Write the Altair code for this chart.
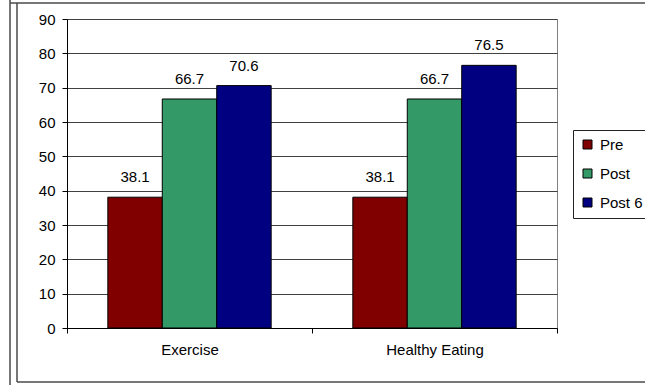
import altair as alt
import pandas as pd

# Survey results: percentage of participants, by topic and phase
topics = ["Exercise", "Healthy Eating"]
phases = ["Pre", "Post", "Post 6"]
exercise_pct = [38.1, 66.7, 70.6]
healthy_eating_pct = [38.1, 66.7, 76.5]
phase_colors = ["#800000", "#339966", "#000080"]
y_ticks = list(range(0, 100, 10))

rows = []
for topic, values in zip(topics, [exercise_pct, healthy_eating_pct]):
    for phase, v in zip(phases, values):
        rows.append({"topic": topic, "phase": phase, "pct": v})
df = pd.DataFrame(rows)

FONT = "Liberation Sans"
FS = 15

x_enc = alt.X(
    "topic:N",
    sort=topics,
    title=None,
    scale=alt.Scale(paddingInner=0, paddingOuter=0),
    axis=alt.Axis(
        labelAngle=0,
        tickBand="extent",
        domainColor="black",
        tickColor="black",
        tickSize=5,
        labelFontSize=FS,
        labelPadding=9,
        labelColor="black",
        grid=False,
    ),
)
xoff_enc = alt.XOffset(
    "phase:N", sort=phases, scale=alt.Scale(paddingInner=0, paddingOuter=0.75)
)
y_enc = alt.Y(
    "pct:Q",
    title=None,
    scale=alt.Scale(domain=[0, 90], nice=False),
    axis=alt.Axis(
        values=y_ticks,
        domainColor="black",
        tickColor="black",
        tickSize=5,
        labelFontSize=FS,
        labelPadding=7,
        labelColor="black",
        gridColor="#404040",
        gridWidth=1,
    ),
)
color_enc = alt.Color(
    "phase:N",
    sort=phases,
    scale=alt.Scale(domain=phases, range=phase_colors),
    legend=alt.Legend(
        title=None,
        orient="none",
        legendX=506,
        legendY=111,
        padding=7,
        strokeColor="#222222",
        fillColor="white",
        rowPadding=13,
        symbolType="square",
        symbolSize=81,
        symbolStrokeColor="black",
        symbolStrokeWidth=1,
        symbolOpacity=1,
        labelFontSize=FS,
        labelColor="black",
        labelOffset=5,
    ),
)

bars = alt.Chart(df).mark_bar(stroke="black", strokeWidth=1, opacity=1).encode(
    x=x_enc, xOffset=xoff_enc, y=y_enc, color=color_enc
)

labels = alt.Chart(df).mark_text(
    dy=-15, baseline="alphabetic", fontSize=FS, color="black", font=FONT
).encode(x=x_enc, xOffset=xoff_enc, y=y_enc, text=alt.Text("pct:Q", format=".1f"))

# Outer chart frame
one = pd.DataFrame({"k": [0]})
frame_color = "#4a4a4a"
frame_left_outer = alt.Chart(one).mark_rule(color=frame_color, strokeWidth=1.5).encode(
    x=alt.value(-57), y=alt.value(-19), y2=alt.value(366)
)
frame_left = alt.Chart(one).mark_rule(color=frame_color, strokeWidth=1.5).encode(
    x=alt.value(-50), y=alt.value(-16), y2=alt.value(363)
)
frame_top = alt.Chart(one).mark_rule(color=frame_color, strokeWidth=1.5).encode(
    x=alt.value(-57), x2=alt.value(590), y=alt.value(-16)
)
frame_bottom = alt.Chart(one).mark_rule(color=frame_color, strokeWidth=1.5).encode(
    x=alt.value(-50), x2=alt.value(590), y=alt.value(363)
)

chart = (
    alt.layer(bars, labels, frame_left_outer, frame_left, frame_top, frame_bottom)
    .properties(
        width=490,
        height=309,
        autosize=alt.AutoSizeParams(type="none"),
        padding={"left": 67, "top": 19, "right": 88, "bottom": 57},
        background="white",
    )
    .configure(font=FONT)
    .configure_view(stroke="#808080", strokeWidth=1)
)

chart.save("out.html", embed_options={"renderer": "svg", "actions": False})
